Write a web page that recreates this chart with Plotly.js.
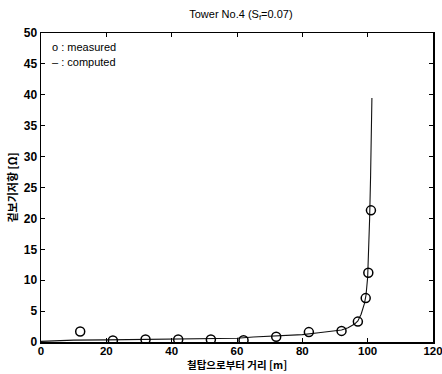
<!DOCTYPE html>
<html><head><meta charset="utf-8">
<script src="https://cdn.plot.ly/plotly-3.0.1.min.js"></script>
<style>body{margin:0;background:#fff}#c{width:442px;height:374px}</style>
</head><body><div id="c"></div>
<script>
var measuredX = [12, 22, 32, 42, 52, 62, 72, 82, 92, 97, 99.4, 100.2, 101];
var measuredY = [1.7, 0.25, 0.4, 0.4, 0.4, 0.3, 0.85, 1.6, 1.8, 3.3, 7.1, 11.2, 21.3];
var computedX = [0, 5, 10, 20, 30, 40, 50, 60, 65, 70, 75, 80, 85, 90, 92, 94, 96, 97, 98, 99, 99.5, 100, 100.3, 100.6, 100.9, 101.1, 101.3];
var computedY = [0.1, 0.2, 0.3, 0.35, 0.4, 0.45, 0.5, 0.6, 0.8, 0.9, 1.0, 1.2, 1.5, 1.8, 1.95, 2.3, 2.9, 3.4, 4.5, 6.2, 7.6, 10.5, 14, 20, 27, 33, 39.5];
var xTicks = [0, 20, 40, 60, 80, 100, 120];
var yTicks = [0, 5, 10, 15, 20, 25, 30, 35, 40, 45, 50];

var tickFont = {family: 'Liberation Sans Narrow, Arial, sans-serif', size: 12, color: '#000', weight: 'bold'};
var data = [
  {x: computedX, y: computedY, mode: 'lines', line: {color: '#111', width: 1.1}, showlegend: false, hoverinfo: 'skip'},
  {x: measuredX, y: measuredY, mode: 'markers', marker: {symbol: 'circle-open', size: 9, color: '#000', line: {width: 1.5, color: '#000'}}, showlegend: false}
];
var layout = {
  width: 442, height: 374,
  margin: {l: 41, r: 9, t: 33, b: 32},
  paper_bgcolor: '#fff', plot_bgcolor: '#fff',
  title: {text: 'Tower No.4 (S<sub>f</sub>=0.07)', x: 0.545, xanchor: 'center', y: 0.962, yanchor: 'middle',
          font: {family: 'Liberation Sans Narrow, Arial, sans-serif', size: 11, color: '#000'}},
  xaxis: {range: [0, 120], tickvals: xTicks, ticktext: xTicks.map(String), ticks: 'inside', ticklen: 4, tickwidth: 1, tickcolor: '#000',
          showline: true, linecolor: '#000', linewidth: 1.5, mirror: 'ticks', showgrid: false, zeroline: false,
          ticklabeloverflow: 'allow', automargin: false, ticklabelstandoff: -2,
          tickfont: {family: 'Liberation Sans Narrow, Arial, sans-serif', size: 11.5, color: '#000', weight: 'bold'}},
  yaxis: {range: [0, 50], tickvals: yTicks, ticktext: yTicks.map(String), ticks: 'inside', ticklen: 4, tickwidth: 1, tickcolor: '#000',
          showline: true, linecolor: '#000', linewidth: 1.5, mirror: 'ticks', showgrid: false, zeroline: false,
          automargin: false,
          tickfont: tickFont,
          title: {text: '겉보기저항 [Ω]', standoff: 4, font: {family: 'Noto Sans CJK KR, sans-serif', size: 11, color: '#000', weight: 'bold'}}},
  annotations: [
    {text: '철탑으로부터 거리 [m]', xref: 'paper', yref: 'paper', x: 0.5, y: -0.073, xanchor: 'center', yanchor: 'middle', showarrow: false,
     borderpad: 0, font: {family: 'Noto Sans CJK KR, sans-serif', size: 10.5, color: '#000', weight: 'bold'}},
    {text: 'o : measured', xref: 'paper', yref: 'paper', x: 0.023, y: 0.955, xanchor: 'left', yanchor: 'middle', showarrow: false,
     font: {family: 'Liberation Sans Narrow, Arial, sans-serif', size: 11, color: '#000'}},
    {text: '– : computed', xref: 'paper', yref: 'paper', x: 0.023, y: 0.906, xanchor: 'left', yanchor: 'middle', showarrow: false,
     font: {family: 'Liberation Sans Narrow, Arial, sans-serif', size: 11, color: '#000'}}
  ]
};
Plotly.newPlot('c', data, layout, {displayModeBar: false, staticPlot: true});
</script>
</body></html>
